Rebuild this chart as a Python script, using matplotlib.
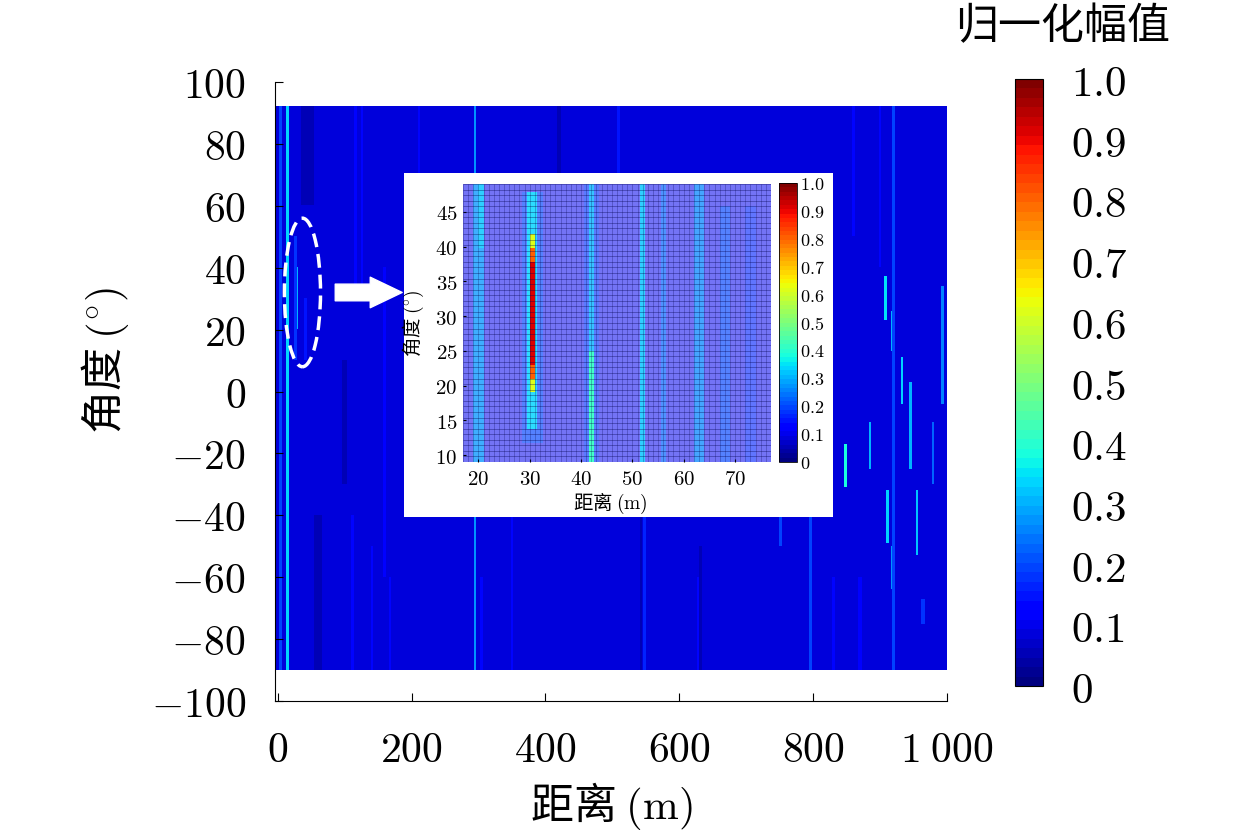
import numpy as np
import matplotlib
matplotlib.use('Agg')
import matplotlib.pyplot as plt
from matplotlib.patches import Ellipse, Rectangle

plt.rcParams['font.family'] = ['Noto Sans CJK SC', 'DejaVu Sans']
plt.rcParams['mathtext.fontset'] = 'cm'

# ---- 主图数据：背景幅值 + 条纹 (距离 m, 角度下限, 角度上限, 幅值, 宽度 m)
bg_main = 0.08
main_rng = [45, 160, 350, 420, 543, 632, 677, 860, 60, 100,
            4, 15, 27, 30, 42, 112, 116, 126, 141, 168, 211, 295, 305, 509, 548,
            628, 751, 796, 830, 848, 885, 908, 911, 918, 918, 920, 933, 945, 955,
            964, 979, 993, 870, 900]
main_lo = [60, -60, -90, 20, -90, -90, -50, 50, -90, -30,
           -90, -90, 10, 20, 10, -90, 30, 30, -90, -90, 40, -90, -90, 60, -90,
           -90, -50, -90, -90, -31, -25, 23, -49, 13, -64, -90, -4, -25, -53,
           -75, -30, -4, -90, 40]
main_hi = [92, 40, -20, 92, -40, -50, -90, 92, -40, 10,
           92, 92, 50, 40, 30, -40, 92, 92, -50, -60, 92, 92, -60, 92, -40,
           -60, -40, -40, -60, -17, -10, 37, -32, 26, -50, 92, 11, 3, -32,
           -67, -10, 34, -60, 92]
main_amp = [0.06, 0.12, 0.13, 0.05, 0.05, 0.05, 0.05, 0.13, 0.06, 0.05,
            0.2, 0.34, 0.18, 0.3, 0.15, 0.13, 0.14, 0.13, 0.13, 0.14, 0.14, 0.27, 0.14, 0.15, 0.16,
            0.14, 0.2, 0.2, 0.13, 0.38, 0.3, 0.35, 0.33, 0.3, 0.28, 0.2, 0.33, 0.3, 0.32,
            0.18, 0.22, 0.26, 0.12, 0.13]
main_w = [20, 3, 3, 6, 4, 4, 6, 3, 12, 8,
          3, 3, 3, 2, 3, 3, 3, 3, 3, 3, 3, 3, 3, 3, 3,
          3, 3, 3, 3, 3, 3, 3, 3, 3, 3, 3, 3, 3, 3,
          6, 3, 3, 6, 3]

# ---- 局部放大图数据
bg_zoom = 0.1
zoom_rng = [19.8, 20.3, 30.5, 30.5, 30.5, 30.5, 30.5, 42, 42, 42, 52, 56, 63, 68, 73]
zoom_lo = [9, 40, 12, 14, 19, 21, 23, 9, 9, 25, 9, 9, 9, 9, 9]
zoom_hi = [49, 49, 48, 48, 42, 40, 38, 49, 25, 49, 49, 49, 49, 46, 46]
zoom_amp = [0.27, 0.32, 0.2, 0.33, 0.62, 0.8, 0.92, 0.18, 0.42, 0.3, 0.32, 0.22, 0.25, 0.2, 0.16]
zoom_w = [2.0, 1.0, 4.0, 2.0, 1.0, 1.0, 1.0, 3.0, 1.0, 1.0, 1.0, 1.0, 1.5, 2.0, 1.5]

cb_ticks = [0, 0.1, 0.2, 0.3, 0.4, 0.5, 0.6, 0.7, 0.8, 0.9, 1.0]
cb_labels = ['0', '0.1', '0.2', '0.3', '0.4', '0.5', '0.6', '0.7', '0.8', '0.9', '1.0']
x_ticks = [0, 200, 400, 600, 800, 1000]
x_labels = ['0', '200', '400', '600', '800', r'1\;000']
y_ticks = [100, 80, 60, 40, 20, 0, -20, -40, -60, -80, -100]
zx_ticks = [20, 30, 40, 50, 60, 70]
zy_ticks = [10, 15, 20, 25, 30, 35, 40, 45]


def construir(r_edges, a_edges, fondo, rngs, los, his, amps, ws):
    """Rellena la matriz de amplitudes a partir de la lista de franjas."""
    rc = (r_edges[:-1] + r_edges[1:]) / 2
    ac = (a_edges[:-1] + a_edges[1:]) / 2
    img = np.full((len(ac), len(rc)), fondo)
    for r, lo, hi, v, w in zip(rngs, los, his, amps, ws):
        m = (np.abs(rc - r) <= w / 2)[None, :] & ((ac >= lo) & (ac <= hi))[:, None]
        img[m] = v
    return img


cmap = plt.get_cmap('jet', 64)
fig = plt.figure(figsize=(12.6, 8.39), dpi=100)

# ---- 主图
ax = fig.add_axes([275/1260, 1-701/839, 672/1260, 619/839])
r_edges = np.arange(-4, 1001, 1.0)
a_edges = np.arange(-90, 93, 1.0)
img = construir(r_edges, a_edges, bg_main, main_rng, main_lo, main_hi, main_amp, main_w)
ax.imshow(img, cmap=cmap, vmin=0, vmax=1, origin='lower', aspect='auto',
          extent=(-4, 1000, -90, 92), interpolation='nearest')
ax.set_xlim(-4, 1000)
ax.set_ylim(-100, 100)
ax.spines['top'].set_visible(False); ax.spines['right'].set_visible(False)
ax.set_xticks(x_ticks)
ax.set_xticklabels([f'${s}$' for s in x_labels])
ax.set_yticks(y_ticks)
ax.set_yticklabels([f'${t}$' for t in y_ticks])
ax.tick_params(direction='in', length=6, labelsize=30, pad=21)
ax.set_xlabel(r'距离 $(\mathrm{m})$', fontsize=31)
ax.set_ylabel(r'角度 $(^{\circ})$', fontsize=31)
ax.xaxis.set_label_coords(0.5, -0.128)
ax.yaxis.set_label_coords(-0.215, 0.55)

ax.add_patch(Ellipse((37, 32), 54, 48, fill=False, ec='white', lw=2.5,
                     ls=(0, (4, 2)), zorder=5))
ax.annotate('', xy=(186, 32), xytext=(86, 32),
            arrowprops=dict(arrowstyle='simple,head_length=1.15,head_width=1.1,tail_width=0.6',
                            fc='white', ec='white', mutation_scale=20,
                            shrinkA=0, shrinkB=0), zorder=6)

# caja blanca del recuadro
ax.add_patch(Rectangle((404/1260, 1-517/839), 429/1260, 344/839,
                       transform=fig.transFigure, fc='white', ec='none',
                       zorder=10, clip_on=False))

# ---- 主色条
cax = fig.add_axes([1015/1260, 1-686/839, 28/1260, 607/839])
sm = plt.cm.ScalarMappable(cmap=cmap, norm=plt.Normalize(0, 1))
cb = fig.colorbar(sm, cax=cax, ticks=cb_ticks)
cb.ax.set_yticklabels([f'${s}$' for s in cb_labels])
cb.ax.tick_params(labelsize=31, length=0, pad=20)
cb.outline.set_linewidth(0.8)
fig.text(1063/1260, 1-27/839, '归一化幅值', fontsize=31, ha='center', va='center')

# ---- 局部放大图
axi = fig.add_axes([463/1260, 1-462/839, 308/1260, 278/839])
axi.set_zorder(3)
zr_edges = np.arange(17.0, 77.01, 0.5)
za_edges = np.arange(9.0, 49.01, 0.4)
zimg = construir(zr_edges, za_edges, bg_zoom, zoom_rng, zoom_lo, zoom_hi, zoom_amp, zoom_w)
# colores con transparencia: fondo pálido, picos saturados
fc = cmap(zimg)
fc[..., 3] = np.clip(0.55 + 1.2 * (zimg - 0.1), 0.55, 1.0)
mesh = axi.pcolormesh(zr_edges, za_edges, zimg, cmap=cmap, vmin=0, vmax=1,
                      edgecolors='none')
mesh.set_array(None)
mesh.set_facecolor(fc.reshape(-1, 4))
# malla de la superficie
axi.hlines(za_edges[::2], zr_edges[0], zr_edges[-1], colors=[(0, 0, 0.3, 0.55)], lw=0.45)
axi.vlines(zr_edges[::2], za_edges[0], za_edges[-1], colors=[(0, 0, 0.3, 0.4)], lw=0.45)
axi.set_xlim(17.0, 77.0)
axi.set_ylim(9.0, 49.0)
for s in axi.spines.values():
    s.set_visible(False)
axi.set_xticks(zx_ticks)
axi.set_xticklabels([f'${t}$' for t in zx_ticks])
axi.set_yticks(zy_ticks)
axi.set_yticklabels([f'${t}$' for t in zy_ticks])
axi.tick_params(direction='in', length=2, labelsize=15, pad=4)
axi.set_xlabel(r'距离 $(\mathrm{m})$', fontsize=14)
axi.set_ylabel(r'角度 $(^{\circ})$', fontsize=14)
axi.xaxis.set_label_coords(0.48, -0.105)
axi.yaxis.set_label_coords(-0.12, 0.5)

caxi = fig.add_axes([779/1260, 1-462/839, 18/1260, 279/839])
caxi.set_zorder(3)
cbi = fig.colorbar(sm, cax=caxi, ticks=cb_ticks)
cbi.ax.set_yticklabels([f'${s}$' for s in cb_labels])
cbi.ax.tick_params(labelsize=13, length=0, pad=2)
cbi.outline.set_linewidth(0.6)

fig.savefig('out.png', dpi=100)
